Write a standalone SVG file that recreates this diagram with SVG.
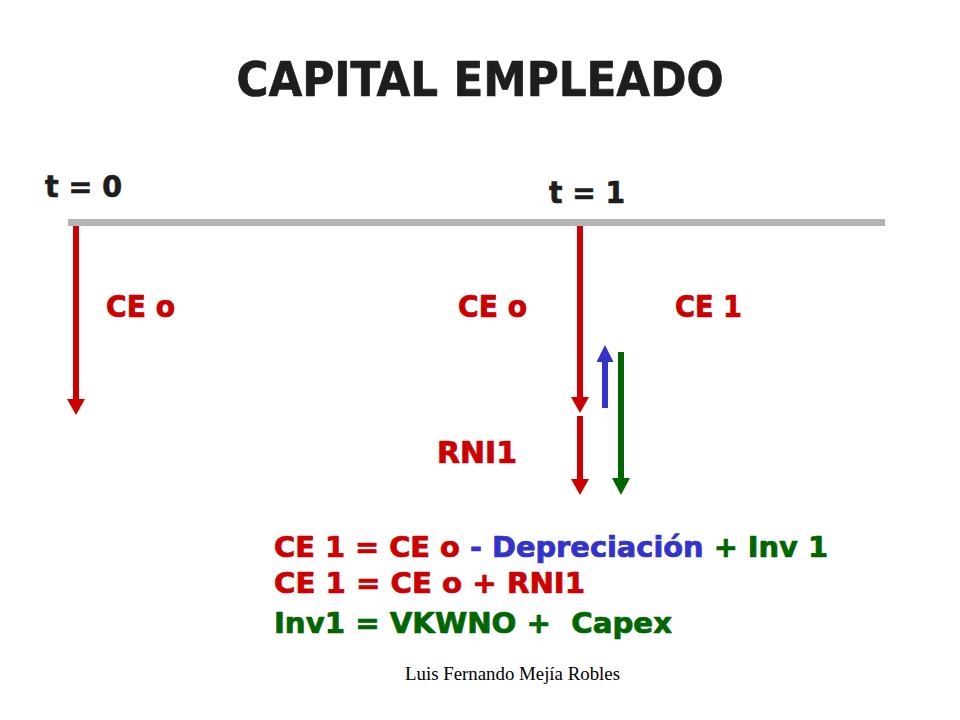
<svg xmlns="http://www.w3.org/2000/svg" width="960" height="720" viewBox="0 0 960 720">
  <style>
    .b { font-family: "DejaVu Sans Condensed", "DejaVu Sans", Verdana, sans-serif; font-weight: bold; stroke-width: 0.7px; stroke-linejoin: round; }
    .title { font-size: 48px; fill: #1e1e1e; stroke: #1e1e1e; }
    .lbl { font-size: 30px; }
    .eq { font-size: 28px; }
    .dark { fill: #1e1e1e; stroke: #1e1e1e; }
    .red { fill: #cc0000; stroke: #cc0000; }
    .blue { fill: #3333cc; stroke: #3333cc; }
    .green { fill: #006600; stroke: #006600; }
    .foot { font-family: "Liberation Serif", "Times New Roman", serif; font-size: 18px; fill: #000; }
    .ln { fill: none; stroke-width: 6; }
  </style>
  <defs>
    <marker id="hRed" viewBox="0 -9 16 18" refX="0" refY="0" markerUnits="userSpaceOnUse" markerWidth="16" markerHeight="18" orient="auto">
      <path d="M0,-9 L16,0 L0,9 z" fill="#cc0000"/>
    </marker>
    <marker id="hBlue" viewBox="0 -8.5 17 17" refX="0" refY="0" markerUnits="userSpaceOnUse" markerWidth="17" markerHeight="17" orient="auto">
      <path d="M0,-8.5 L17,0 L0,8.5 z" fill="#3333cc"/>
    </marker>
    <marker id="hGreen" viewBox="0 -9 17 18" refX="0" refY="0" markerUnits="userSpaceOnUse" markerWidth="17" markerHeight="18" orient="auto">
      <path d="M0,-9 L17,0 L0,9 z" fill="#006600"/>
    </marker>
  </defs>
  <rect width="960" height="720" fill="#ffffff"/>

  <text id="title" class="b title" x="480" y="96" text-anchor="middle" textLength="487" lengthAdjust="spacingAndGlyphs">CAPITAL EMPLEADO</text>

  <g id="timeline">
    <rect x="68" y="219" width="817" height="7" fill="#b3b3b3"/>
  </g>

  <g id="t0"><text class="b lbl dark" x="45" y="197" textLength="77" lengthAdjust="spacingAndGlyphs">t = 0</text></g>
  <g id="t1"><text class="b lbl dark" x="549" y="203" textLength="76" lengthAdjust="spacingAndGlyphs">t = 1</text></g>

  <g id="connectors">
    <path class="ln" stroke="#cc0000" d="M76,226 V399" marker-end="url(#hRed)"/>
    <path class="ln" stroke="#cc0000" d="M580,226 V397" marker-end="url(#hRed)"/>
    <path class="ln" stroke="#cc0000" d="M580,416 V479" marker-end="url(#hRed)"/>
    <path class="ln" stroke="#3333cc" d="M605,408 V362" marker-end="url(#hBlue)"/>
    <path class="ln" stroke="#006600" d="M621,352 V478" marker-end="url(#hGreen)"/>
  </g>

  <g id="ce0-left"><text class="b lbl red" x="106" y="317" textLength="69" lengthAdjust="spacingAndGlyphs">CE o</text></g>
  <g id="ce0-mid"><text class="b lbl red" x="458" y="317" textLength="69" lengthAdjust="spacingAndGlyphs">CE o</text></g>
  <g id="ce1"><text class="b lbl red" x="675" y="317" textLength="67" lengthAdjust="spacingAndGlyphs">CE 1</text></g>
  <g id="rni1"><text class="b lbl red" x="437" y="463" textLength="80" lengthAdjust="spacingAndGlyphs">RNI1</text></g>

  <g id="equations">
    <text class="b eq" x="274" y="557" textLength="554" lengthAdjust="spacingAndGlyphs"><tspan class="red">CE 1 = CE o </tspan><tspan class="blue">- Depreciación </tspan><tspan class="green">+ Inv 1</tspan></text>
    <text class="b eq red" x="274" y="593" textLength="311" lengthAdjust="spacingAndGlyphs">CE 1 = CE o + RNI1</text>
    <text class="b eq green" x="274" y="633" textLength="398" lengthAdjust="spacingAndGlyphs" xml:space="preserve">Inv1 = VKWNO +  Capex</text>
  </g>

  <g id="footer"><text class="foot" x="405" y="680" textLength="215" lengthAdjust="spacingAndGlyphs">Luis Fernando Mejía Robles</text></g>
</svg>
